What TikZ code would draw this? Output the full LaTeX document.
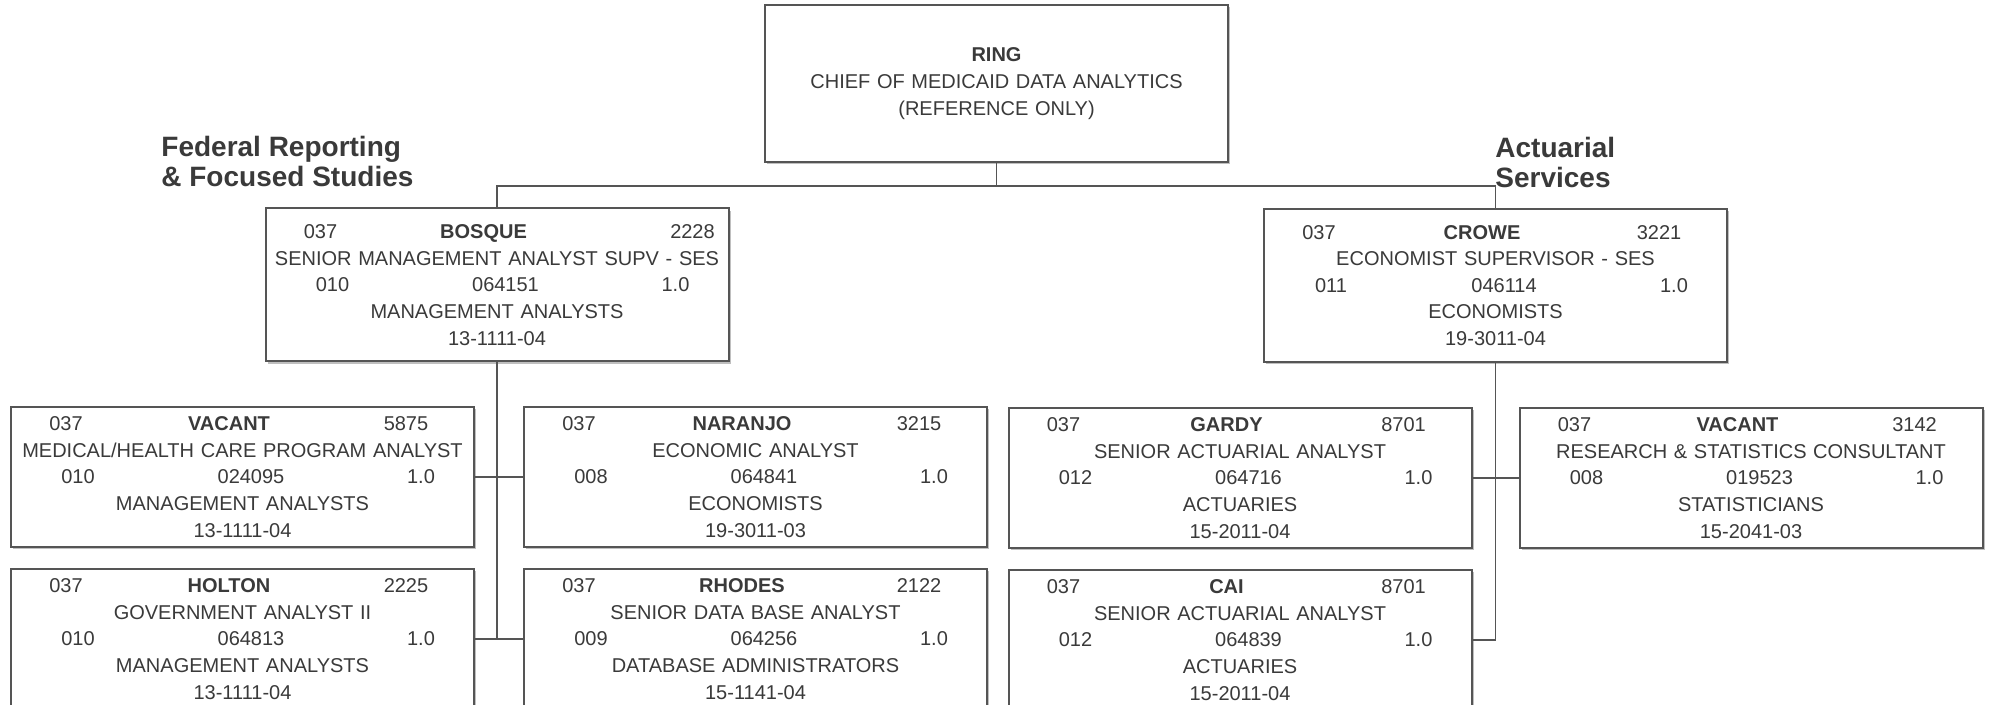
\documentclass[tikz,border=0pt]{standalone}
\usepackage{fontspec}
\setmainfont{Liberation Sans}
\usetikzlibrary{
  positioning,
  shadows
}
\definecolor{ink}{HTML}{3A3A3A}
\definecolor{rule}{HTML}{555555}

% one position box: name row, title, code row, class, SOC code
\newlength{\boxw}
\setlength{\boxw}{231.5pt}
\newlength{\numpos}
\setlength{\numpos}{197.5pt}
\newcommand{\placeat}[2]{\makebox[0pt][l]{\hspace*{#1}\makebox[0pt]{#2}}}
\newcommand{\namerow}[3]{\makebox[\boxw][l]{\placeat{27.5pt}{#1}\placeat{109pt}{\textbf{#2}}\placeat{\numpos}{#3}}}
\newcommand{\coderow}[3]{\makebox[\boxw][l]{\placeat{33.5pt}{#1}\placeat{120pt}{#2}\placeat{205pt}{#3}}}
\newcommand{\post}[9]{\namerow{#1}{#2}{#3}\\#4\\\coderow{#5}{#6}{#7}\\#8\\#9}

\begin{document}
\begin{tikzpicture}[
  x=0.5pt, y=-0.5pt,
  posbox/.style={draw=rule, line width=1pt, fill=white, text=ink,
    font=\fontsize{10}{13.3}\selectfont, text width=\boxw, align=center,
    inner sep=0pt, minimum height=70pt,
    drop shadow={shadow xshift=1.2pt, shadow yshift=-1.2pt, fill=black!50}},
  unitlabel/.style={font=\fontsize{14}{15}\selectfont\bfseries, text=ink,
    align=left, inner sep=0pt, anchor=north west},
  link/.style={draw=rule, line width=0.8pt}
]
  \useasboundingbox (0,0) rectangle (1990,705);

  % chief
  \node[posbox, minimum height=78.5pt] (ring) at (996.5,83.5)
    {\textbf{RING}\\CHIEF OF MEDICAID DATA ANALYTICS\\(REFERENCE ONLY)};

  % section heads
  \node[posbox, minimum height=76.5pt] (bosque) at (497,285)
    {\setlength{\numpos}{213.5pt}%
     \post{037}{BOSQUE}{2228}{SENIOR MANAGEMENT ANALYST SUPV - SES}{010}{064151}{1.0}{MANAGEMENT ANALYSTS}{13-1111-04}};
  \node[posbox, minimum height=76.5pt] (crowe) at (1495.5,285.5)
    {\post{037}{CROWE}{3221}{ECONOMIST SUPERVISOR - SES}{011}{046114}{1.0}{ECONOMISTS}{19-3011-04}};

  % federal reporting staff
  \node[posbox] (vacantL) at (242.5,477)
    {\post{037}{VACANT}{5875}{MEDICAL/HEALTH CARE PROGRAM ANALYST}{010}{024095}{1.0}{MANAGEMENT ANALYSTS}{13-1111-04}};
  \node[posbox, right=24pt of vacantL] (naranjo)
    {\post{037}{NARANJO}{3215}{ECONOMIC ANALYST}{008}{064841}{1.0}{ECONOMISTS}{19-3011-03}};
  \node[posbox, below=10pt of vacantL] (holton)
    {\post{037}{HOLTON}{2225}{GOVERNMENT ANALYST II}{010}{064813}{1.0}{MANAGEMENT ANALYSTS}{13-1111-04}};
  \node[posbox, below=10pt of naranjo] (rhodes)
    {\post{037}{RHODES}{2122}{SENIOR DATA BASE ANALYST}{009}{064256}{1.0}{DATABASE ADMINISTRATORS}{15-1141-04}};

  % actuarial staff
  \node[posbox] (gardy) at (1240,478)
    {\post{037}{GARDY}{8701}{SENIOR ACTUARIAL ANALYST}{012}{064716}{1.0}{ACTUARIES}{15-2011-04}};
  \node[posbox, right=23pt of gardy] (vacantR)
    {\post{037}{VACANT}{3142}{RESEARCH \& STATISTICS CONSULTANT}{008}{019523}{1.0}{STATISTICIANS}{15-2041-03}};
  \node[posbox, below=10pt of gardy] (cai)
    {\post{037}{CAI}{8701}{SENIOR ACTUARIAL ANALYST}{012}{064839}{1.0}{ACTUARIES}{15-2011-04}};

  % reporting lines
  \coordinate (bus) at (0,186);
  \draw[link] (ring.south) -- (ring.south |- bus);
  \draw[link] (bosque.north) -- (bosque.north |- bus) -- (crowe.north |- bus) -- (crowe.north);

  \draw[link] (bosque.south) -- (bosque.south |- holton.east);
  \draw[link] (vacantL.east) -- (naranjo.west);
  \draw[link] (holton.east) -- (rhodes.west);

  \draw[link] (crowe.south) -- (crowe.south |- cai.east);
  \draw[link] (gardy.east) -- (vacantR.west);
  \draw[link] (cai.east) -- (crowe.south |- cai.east);

  \node[unitlabel] (fedlbl) at (161,136) {Federal Reporting\\\& Focused Studies};
  \node[unitlabel] (actlbl) at (1495,137) {Actuarial\\Services};
\end{tikzpicture}
\end{document}
